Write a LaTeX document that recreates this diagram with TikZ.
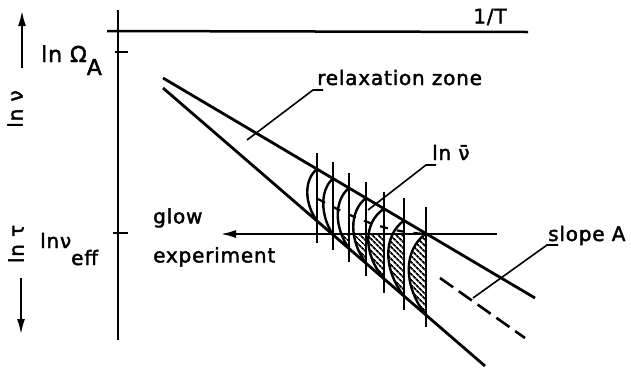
\documentclass[tikz,border=0pt]{standalone}
\usepackage{fontspec}
\setmainfont{DejaVu Sans}[FakeBold=2, LetterSpace=4]
\usetikzlibrary{arrows.meta,patterns.meta}
\newcommand{\lblfont}{\fontsize{20}{24}\selectfont}

\begin{document}
\begin{tikzpicture}[x=1pt, y=-1pt,
  axis/.style={line width=2.5pt},
  band/.style={line width=2.8pt},
  grid/.style={line width=2.4pt},
  peak/.style={line width=2.4pt},
  lead/.style={line width=1.6pt},
  trend/.style={line width=2.6pt, dash pattern=on 16pt off 7pt},
  mean/.style={line width=2.2pt, dash pattern=on 8pt off 9pt},
  arr/.style={-{Latex[length=16pt,width=8pt]}, line width=2.5pt},
  lbl/.style={font=\lblfont, inner sep=0pt},
  hatch/.style={pattern={Lines[angle=-45,distance=4pt,line width=1.8pt]}},
]
\useasboundingbox (0,0) rectangle (631,368);

%==================== SUMBU ====================
\coordinate (ytop) at (118,10);
\coordinate (ybot) at (118,340);
\draw[axis] (ytop) -- (ybot);
\coordinate (tl) at (107,31);
\coordinate (tr) at (528,32);
\draw[axis] (tl) -- (tr);
\node[lbl] (invT) at (490,17) {1/T};

\coordinate (tOa) at (115,52);
\coordinate (tOb) at (128,52);
\draw[axis] (tOa) -- (tOb);
\node[lbl, anchor=base west, font=\fontsize{22}{26}\selectfont] (lnO) at (41,62)
  {ln Ω\raisebox{-13pt}{A}};

\coordinate (tEa) at (113,233);
\coordinate (tEb) at (128,233);
\draw[axis] (tEa) -- (tEb);
\node[lbl, anchor=base west] (lnE) at (40,248) {lnν\raisebox{-17pt}{eff}};

% label sumbu kiri (diputar)
\node[lbl, rotate=90] (lnnu) at (15,109) {ln ν};
\node[lbl, rotate=90] (lntau) at (16,244) {ln τ};
\coordinate (nu0) at (22,68);
\coordinate (nu1) at (22,10);
\draw[arr] (nu0) -- (nu1);
\coordinate (ta0) at (21,278);
\coordinate (ta1) at (21,335);
\draw[arr] (ta0) -- (ta1);

%==================== PITA RELAKSASI ====================
\coordinate (u0) at (163,78);
\coordinate (u1) at (535,298);
\coordinate (l0) at (163,88);
\coordinate (l1) at (485,366);
\draw[band] (u0) -- (u1);
\draw[band] (l0) -- (l1);

\coordinate (s0) at (440,278);
\coordinate (s1) at (525,338);
\draw[trend] (s0) -- (s1);

% eksperimen glow
\coordinate (g1) at (497,234);
\coordinate (g0) at (220,234);
\draw[arr] (g1) -- (g0);
\node[lbl, anchor=north west, align=left, font=\fontsize{20}{39}\selectfont]
  (glow) at (153,208) {glow\\experiment};

%==================== DISTRIBUSI ====================
\foreach \x/\t/\b/\w in {317/153/243/13, 333/162/250/13, 349/173/262/15,
    366/182/276/17, 384/192/293/21, 404/198/310/21, 426/207/327/23}{
  \pgfmathsetmacro\yu{78+0.5914*(\x-163)}
  \pgfmathsetmacro\yl{88+0.863*(\x-163)}
  \pgfmathsetmacro\ya{\yu+0.2*(\yl-\yu)}
  \pgfmathsetmacro\yb{\yu+0.65*(\yl-\yu)}
  \pgfmathsetmacro\xc{\x-\w}
  \begin{scope}
    \clip (0,234) rectangle (631,368);
    \fill[hatch] (\x,\yu) .. controls (\xc,\ya) and (\xc,\yb) .. (\x,\yl) -- cycle;
  \end{scope}
  \draw[peak] (\x,\yu) .. controls (\xc,\ya) and (\xc,\yb) .. (\x,\yl);
  \draw[grid] (\x,\t) -- (\x,\b);
}

\coordinate (m0) at (318,199);
\coordinate (m1) at (426,234);
\draw[mean] (m0) .. controls (360,222) and (390,232) .. (m1);

%==================== LABEL ====================
\node[lbl, anchor=base west] (zone) at (317,85) {relaxation zone};
\coordinate (zk) at (313,90);
\coordinate (zt) at (247,140);
\draw[lead] ([xshift=6pt,yshift=-5pt]zone.base west) -- (zk) -- (zt);

\node[lbl, anchor=base west] (nubar) at (432,160) {ln ν̄};
\coordinate (nk) at (426,165);
\coordinate (nt) at (368,210);
\draw[lead] ([xshift=4pt,yshift=-5pt]nubar.base west) -- (nk) -- (nt);

\node[lbl, anchor=base west] (slope) at (548,241) {slope A};
\coordinate (sk) at (547,245);
\coordinate (st) at (473,298);
\draw[lead] ([xshift=10pt,yshift=-4pt]slope.base west) -- (sk) -- (st);

\end{tikzpicture}
\end{document}
